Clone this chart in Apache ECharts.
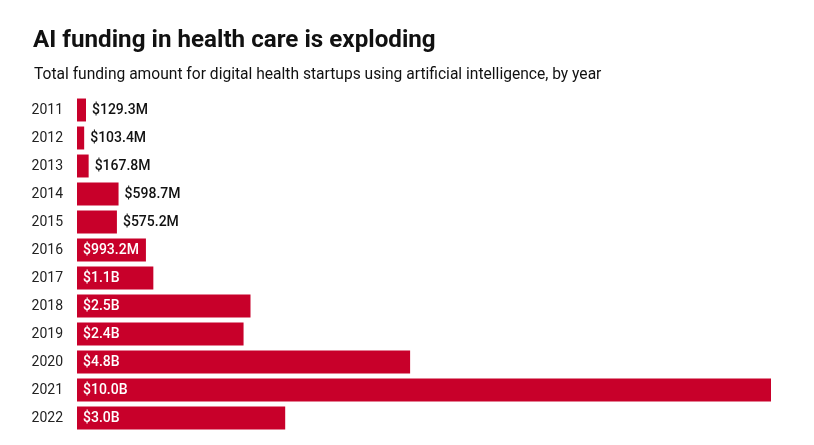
<!DOCTYPE html>
<html>
<head>
<meta charset="utf-8">
<script src="https://cdn.jsdelivr.net/npm/echarts@6/dist/echarts.min.js"></script>
<style>html,body{margin:0;padding:0;background:#fff}#c{width:814px;height:445px}</style>
</head>
<body>
<div id="c"></div>
<script>
// Data (funding in millions of USD)
const years = ['2011','2012','2013','2014','2015','2016','2017','2018','2019','2020','2021','2022'];
const funding = [129.3, 103.4, 167.8, 598.7, 575.2, 993.2, 1100, 2500, 2400, 4800, 10000, 3000];
const labelInsideFrom = 5; // index from which labels sit inside the bar

const RED = '#c8002a';
const FONT = 'Roboto, "DejaVu Sans", sans-serif';

function fmt(v) {
  return v < 1000 ? '$' + v.toFixed(1) + 'M' : '$' + (v / 1000).toFixed(1) + 'B';
}

const barData = funding.map((v, i) => ({
  value: v,
  label: i < labelInsideFrom
    ? { position: 'right', distance: 6, color: '#111' }
    : { position: 'insideLeft', distance: 6, color: '#fff' }
}));

const chart = echarts.init(document.getElementById('c'), null, { renderer: 'canvas' });
chart.setOption({
  backgroundColor: '#fff',
  animation: false,
  title: [
    {
      text: 'AI funding in health care is exploding',
      left: 33, top: 29, padding: 0,
      textStyle: { fontFamily: FONT, fontWeight: 'bold', fontSize: 24.2, color: '#111' }
    },
    {
      text: 'Total funding amount for digital health startups using artificial intelligence, by year',
      left: 34, top: 67, padding: 0,
      textStyle: { fontFamily: FONT, fontWeight: 'normal', fontSize: 15.6, color: '#111' }
    }
  ],
  grid: { left: 77, right: 43, top: 96, bottom: 13, containLabel: false },
  xAxis: {
    type: 'value', min: 0, max: 10000,
    show: false
  },
  yAxis: {
    type: 'category',
    data: years,
    inverse: true,
    axisLine: { show: false },
    axisTick: { show: false },
    splitLine: { show: false },
    axisLabel: { margin: 14, fontFamily: FONT, fontSize: 14, color: '#222' }
  },
  series: [{
    type: 'bar',
    data: barData,
    barCategoryGap: '18%',
    itemStyle: { color: RED },
    label: {
      show: true,
      fontFamily: FONT,
      fontSize: 14,
      fontWeight: 500,
      formatter: p => fmt(p.value)
    }
  }]
});
</script>
</body>
</html>
